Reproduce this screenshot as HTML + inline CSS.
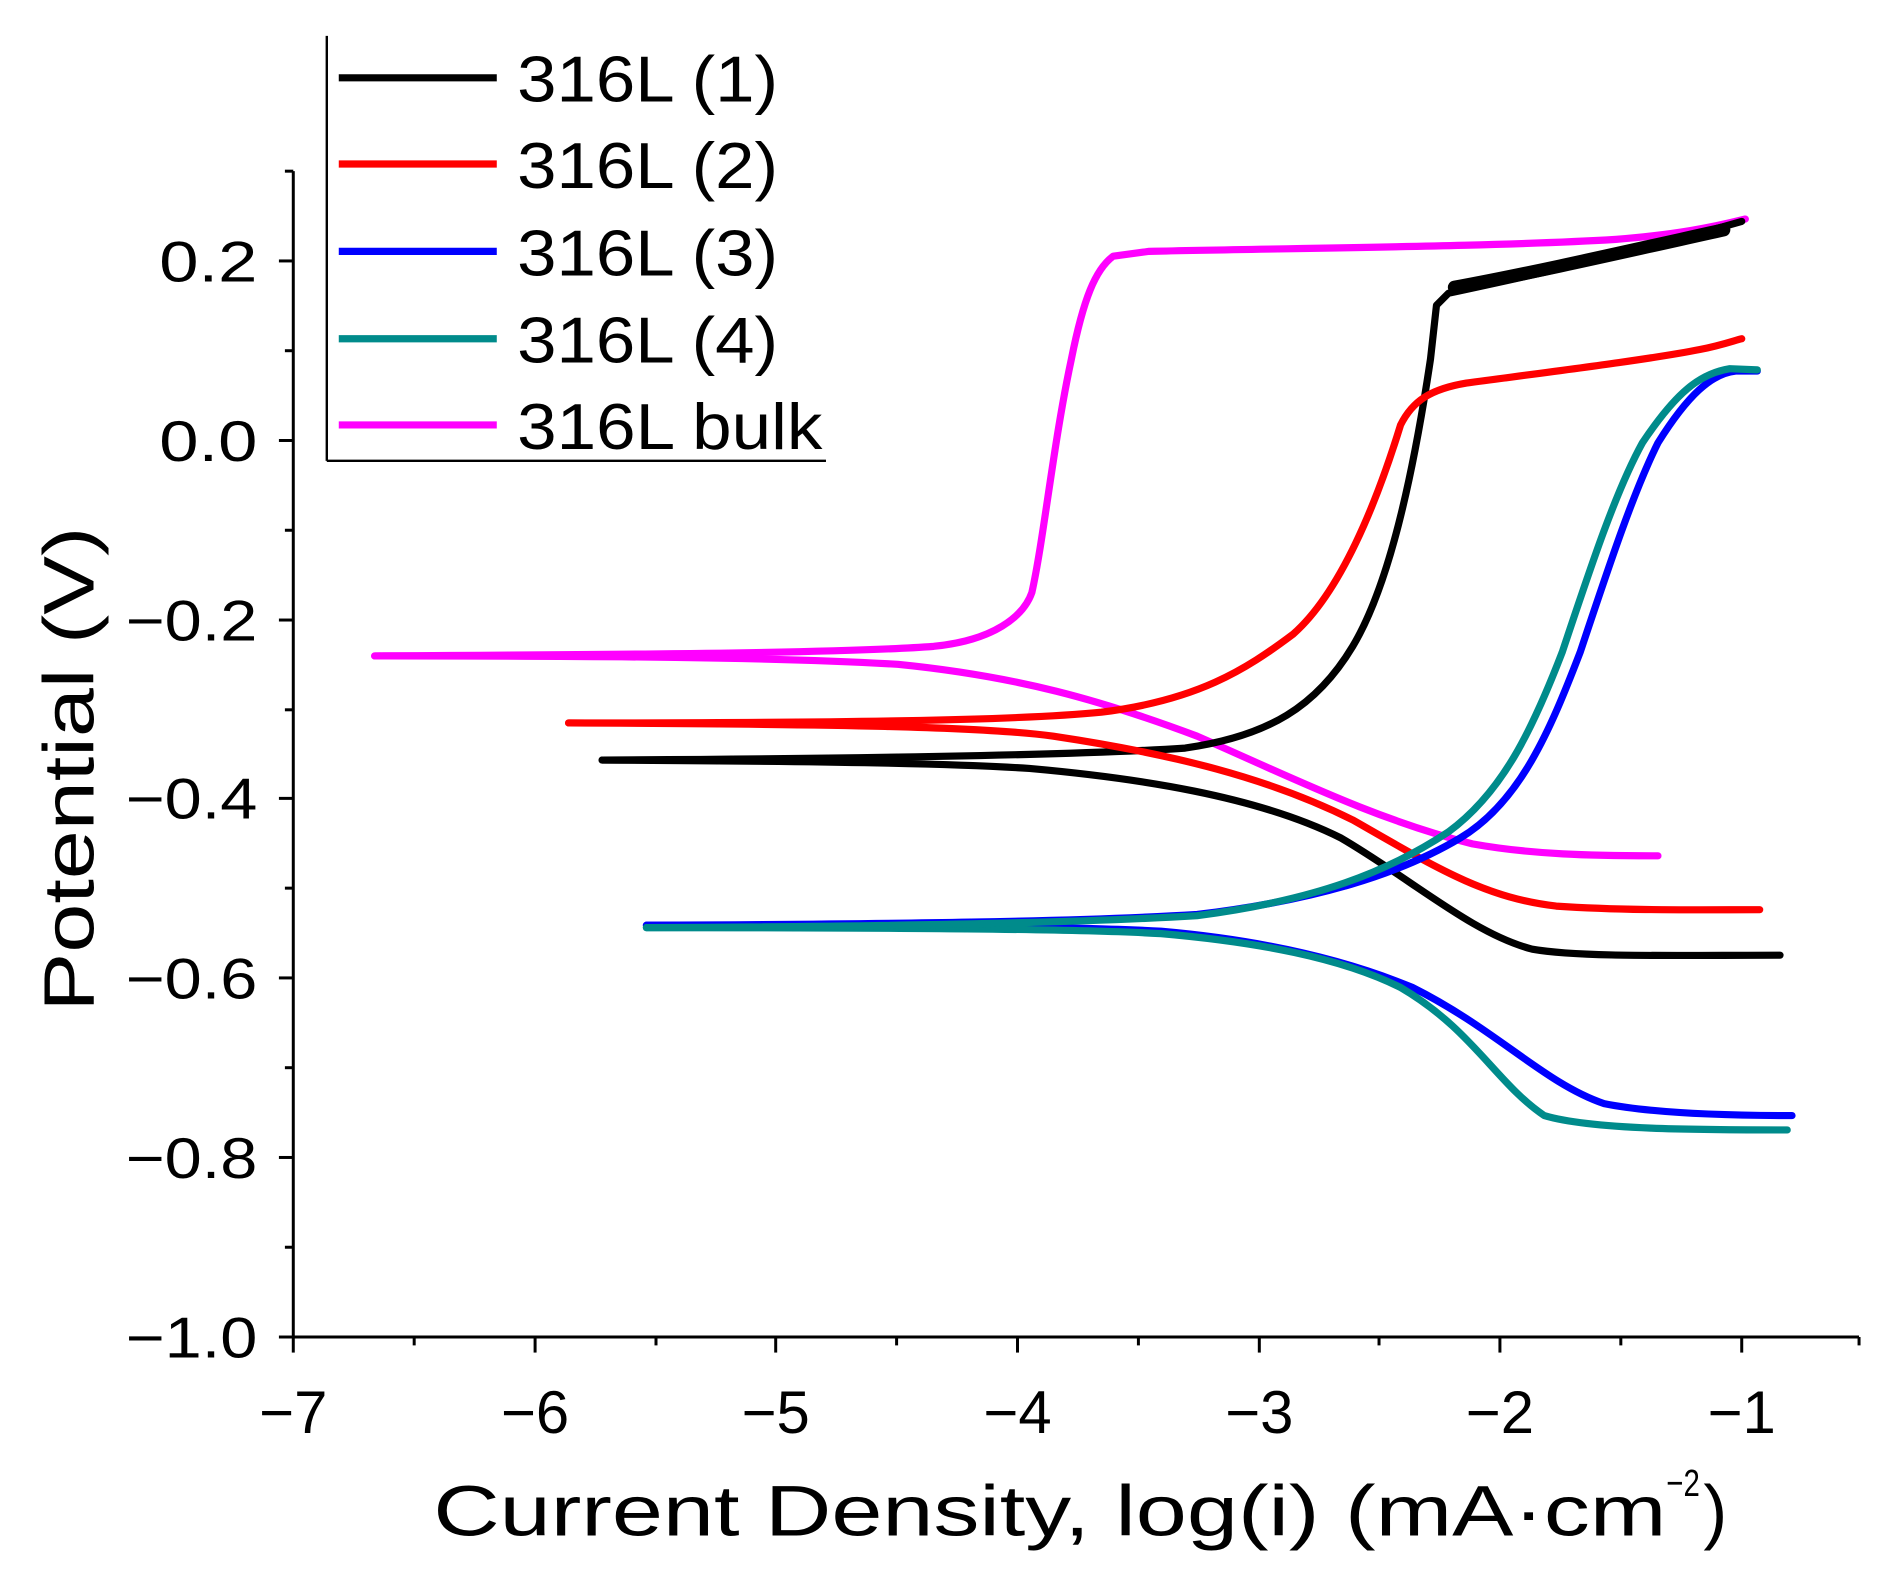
<!DOCTYPE html>
<html><head><meta charset="utf-8"><style>
html,body{margin:0;padding:0;background:#fff;}
svg{display:block;}
text{font-family:"Liberation Sans",Arial,sans-serif;fill:#000;}
</style></head><body>
<svg width="1877" height="1580" viewBox="0 0 1568 1320" preserveAspectRatio="none" xmlns="http://www.w3.org/2000/svg">
<rect width="1568" height="1320" fill="#fff"/>
<g stroke="#000" stroke-width="2.5" fill="none">
<line x1="245" y1="143" x2="245" y2="1117"/>
<line x1="245" y1="1117" x2="1553" y2="1117"/>
<line x1="233" y1="218" x2="245" y2="218"/><line x1="233" y1="368" x2="245" y2="368"/>
<line x1="233" y1="518" x2="245" y2="518"/><line x1="233" y1="667" x2="245" y2="667"/>
<line x1="233" y1="817" x2="245" y2="817"/><line x1="233" y1="967" x2="245" y2="967"/>
<line x1="233" y1="1117" x2="245" y2="1117"/>
<line x1="238" y1="143" x2="245" y2="143"/><line x1="238" y1="293" x2="245" y2="293"/>
<line x1="238" y1="443" x2="245" y2="443"/><line x1="238" y1="593" x2="245" y2="593"/>
<line x1="238" y1="742" x2="245" y2="742"/><line x1="238" y1="892" x2="245" y2="892"/>
<line x1="238" y1="1042" x2="245" y2="1042"/>
<line x1="245" y1="1117" x2="245" y2="1130"/><line x1="447" y1="1117" x2="447" y2="1130"/>
<line x1="648" y1="1117" x2="648" y2="1130"/><line x1="850" y1="1117" x2="850" y2="1130"/>
<line x1="1052" y1="1117" x2="1052" y2="1130"/><line x1="1253" y1="1117" x2="1253" y2="1130"/>
<line x1="1455" y1="1117" x2="1455" y2="1130"/>
<line x1="346" y1="1117" x2="346" y2="1124"/><line x1="548" y1="1117" x2="548" y2="1124"/>
<line x1="749" y1="1117" x2="749" y2="1124"/><line x1="951" y1="1117" x2="951" y2="1124"/>
<line x1="1152" y1="1117" x2="1152" y2="1124"/><line x1="1354" y1="1117" x2="1354" y2="1124"/>
<line x1="1553" y1="1117" x2="1553" y2="1124"/>
</g>
<g font-size="48">
<text x="133" y="235" textLength="82" lengthAdjust="spacingAndGlyphs">0.2</text>
<text x="133" y="385" textLength="82" lengthAdjust="spacingAndGlyphs">0.0</text>
<text x="105" y="535" textLength="110" lengthAdjust="spacingAndGlyphs">−0.2</text>
<text x="105" y="684" textLength="110" lengthAdjust="spacingAndGlyphs">−0.4</text>
<text x="105" y="834" textLength="110" lengthAdjust="spacingAndGlyphs">−0.6</text>
<text x="105" y="984" textLength="110" lengthAdjust="spacingAndGlyphs">−0.8</text>
<text x="105" y="1134" textLength="110" lengthAdjust="spacingAndGlyphs">−1.0</text>
</g>
<g font-size="50" text-anchor="middle">
<text x="245" y="1197">−7</text><text x="447" y="1197">−6</text><text x="648" y="1197">−5</text>
<text x="850" y="1197">−4</text><text x="1052" y="1197">−3</text><text x="1253" y="1197">−2</text>
<text x="1455" y="1197">−1</text>
</g>
<text x="362" y="1283" font-size="60" textLength="1030" lengthAdjust="spacingAndGlyphs">Current Density, log(i) (mA·cm</text>
<text x="1392" y="1250" font-size="32" textLength="28" lengthAdjust="spacingAndGlyphs">−2</text>
<text x="1423" y="1283" font-size="60">)</text>
<text transform="translate(78,845) rotate(-90)" font-size="60" textLength="405" lengthAdjust="spacingAndGlyphs">Potential (V)</text>
<g fill="none" stroke-width="6" stroke-linejoin="round" stroke-linecap="round">
<path stroke="#ff00ff" d="M313,548 C500,548 650,549 750,555 C850,565 920,585 1000,615 C1080,650 1150,685 1230,705 C1280,714 1330,715 1385,715"/>
<path stroke="#ff00ff" d="M313,548 C500,547 700,546 780,540 C830,535 855,515 862,495 C872,450 880,370 895,300 C905,250 915,225 930,214 L960,210 C1100,207 1250,206 1350,200 C1400,196 1430,190 1458,183"/>
<path stroke="#000" d="M503,635 C700,636 800,638 860,642 C950,650 1050,665 1120,700 C1180,735 1230,780 1280,793 C1320,800 1400,798 1487,798"/>
<path stroke="#000" d="M503,635 C700,634 900,631 990,625 C1060,615 1100,590 1130,540 C1160,490 1180,400 1195,300 L1200,255 L1210,245 C1280,230 1350,215 1455,185"/>
<path stroke="#000" stroke-width="11" d="M1215,240 C1280,228 1350,212 1440,192"/>
<path stroke="#ff0000" d="M475,604 C700,605 820,607 880,615 C980,630 1060,650 1130,685 C1200,725 1240,750 1300,757 C1360,761 1420,760 1470,760"/>
<path stroke="#ff0000" d="M475,604 C700,604 850,602 920,595 C1000,585 1040,560 1080,530 C1120,495 1150,420 1170,355 C1180,335 1195,325 1225,320 C1300,310 1380,300 1420,292 C1440,288 1450,284 1455,283"/>
<path stroke="#0000ff" d="M540,773 C750,773 900,774 970,778 C1050,785 1120,800 1180,825 C1250,860 1290,905 1340,922 C1380,930 1440,932 1497,932"/>
<path stroke="#0000ff" d="M540,773 C750,772 900,770 1000,764 C1100,752 1170,730 1220,700 C1270,670 1295,610 1320,545 C1345,470 1365,410 1385,370 C1410,330 1430,312 1450,310 L1468,310"/>
<path stroke="#008b8b" d="M540,775 C750,775 900,776 970,780 C1050,787 1120,800 1170,825 C1230,860 1250,905 1290,932 C1330,944 1420,944 1493,944"/>
<path stroke="#008b8b" d="M540,775 C750,774 900,771 1000,765 C1100,752 1160,728 1210,695 C1255,662 1280,610 1305,545 C1330,470 1350,410 1372,370 C1400,328 1420,312 1445,308 L1468,309"/>
</g>
<g stroke="#000" stroke-width="2"><line x1="273" y1="30" x2="273" y2="385"/><line x1="273" y1="385" x2="690" y2="385"/></g>
<g stroke-width="6">
<line x1="283" y1="65" x2="415" y2="65" stroke="#000"/>
<line x1="283" y1="137" x2="415" y2="137" stroke="#ff0000"/>
<line x1="283" y1="210" x2="415" y2="210" stroke="#0000ff"/>
<line x1="283" y1="283" x2="415" y2="283" stroke="#008b8b"/>
<line x1="283" y1="355" x2="415" y2="355" stroke="#ff00ff"/>
</g>
<g font-size="54">
<text x="432" y="85" textLength="218" lengthAdjust="spacingAndGlyphs">316L (1)</text>
<text x="432" y="157" textLength="218" lengthAdjust="spacingAndGlyphs">316L (2)</text>
<text x="432" y="230" textLength="218" lengthAdjust="spacingAndGlyphs">316L (3)</text>
<text x="432" y="303" textLength="218" lengthAdjust="spacingAndGlyphs">316L (4)</text>
<text x="432" y="375" textLength="255" lengthAdjust="spacingAndGlyphs">316L bulk</text>
</g>
</svg>
</body></html>
